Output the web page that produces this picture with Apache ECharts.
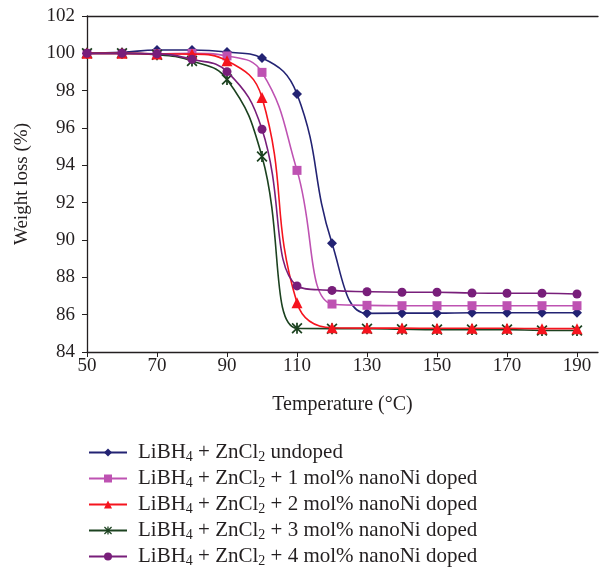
<!DOCTYPE html>
<html><head><meta charset="utf-8">
<script src="https://cdn.jsdelivr.net/npm/echarts@6/dist/echarts.min.js"></script>
<style>html,body{margin:0;padding:0;background:#fff}#c{width:606px;height:568px}</style>
</head><body><div id="c"></div>
<script>
var temperatures = [50,60,70,80,90,100,110,120,130,140,150,160,170,180,190];
var undoped = [100,100.05,100.18,100.18,100.07,99.75,97.82,89.82,86.07,86.08,86.08,86.1,86.1,86.1,86.1];
var doped1 = [100,100,99.98,100.0,99.86,98.98,93.73,86.57,86.5,86.48,86.48,86.48,86.48,86.48,86.48];
var doped2 = [100,100,99.97,99.96,99.6,97.63,86.64,85.3,85.28,85.28,85.27,85.27,85.27,85.25,85.25];
var doped3 = [100,100,99.92,99.59,98.6,94.47,85.27,85.25,85.25,85.22,85.2,85.2,85.2,85.15,85.15];
var doped4 = [100,100,99.97,99.68,99.02,95.93,87.54,87.3,87.23,87.2,87.2,87.16,87.15,87.15,87.11];
var seriesNames = ['undoped','1 mol% nanoNi doped','2 mol% nanoNi doped','3 mol% nanoNi doped','4 mol% nanoNi doped'];
var yTicks = [84,86,88,90,92,94,96,98,100,102];
var xTicks = [50,70,90,110,130,150,170,190];

var FONT = 'Liberation Serif';
var colors = ['#232373','#BE52B2','#F5141E','#1C4220','#781E7A'];
var starPath = 'path://M4.2 0L5.8 0L5.8 10L4.2 10ZM0 1.1L1.1 0L10 8.9L8.9 10ZM8.9 0L10 1.1L1.1 10L0 8.9Z';
var symbols = ['diamond','rect','triangle',starPath,'circle'];
var sizes = [10,9,11,11,9];
var datas = [undoped,doped1,doped2,doped3,doped4];
function pairs(arr){ return temperatures.map(function(t,i){ return [t,arr[i]]; }); }

var series = datas.map(function(d,i){
  return {
    name: seriesNames[i], type:'line', data: pairs(d), smooth:0.45,
    symbol: symbols[i], symbolSize: sizes[i], showSymbol:true,
    lineStyle:{color:colors[i], width:1.6},
    itemStyle:{color:colors[i]},
    z: [2,3,5,4,6][i]
  };
});

var chart = echarts.init(document.getElementById('c'), null, {renderer:'canvas'});
chart.setOption({
  animation:false,
  backgroundColor:'#fff',
  grid:{left:87, top:16, right:8, bottom:216, containLabel:false},
  xAxis:[{
    type:'value', min:50, max:196, interval:20,
    axisLine:{show:true, lineStyle:{color:'#231f20', width:1.3}},
    axisTick:{show:true, length:5, lineStyle:{color:'#231f20'}},
    splitLine:{show:false},
    axisLabel:{color:'#231f20', fontFamily:FONT, fontSize:19, margin:5, showMaxLabel:false,
      formatter:function(v){ return xTicks.indexOf(v)>=0 ? String(v) : ''; }},
    name:'Temperature (\u00B0C)', nameLocation:'middle', nameGap:43,
    nameTextStyle:{color:'#231f20', fontFamily:FONT, fontSize:20}
  },{
    type:'value', min:50, max:196, position:'top',
    axisLine:{show:true, lineStyle:{color:'#231f20', width:1.3}},
    axisTick:{show:false}, axisLabel:{show:false}, splitLine:{show:false}
  }],
  yAxis:{
    type:'value', min:84, max:102, interval:2,
    axisLine:{show:true, lineStyle:{color:'#231f20', width:1.3}},
    axisTick:{show:true, length:5, lineStyle:{color:'#231f20'}},
    splitLine:{show:false},
    axisLabel:{color:'#231f20', fontFamily:FONT, fontSize:19, margin:12,
      formatter:function(v){ return yTicks.indexOf(v)>=0 ? String(v) : ''; }},
    name:'Weight loss (%)', nameLocation:'middle', nameGap:55, nameRotate:90,
    nameTextStyle:{color:'#231f20', fontFamily:FONT, fontSize:19}
  },
  legend:{
    orient:'vertical', left:88, top:441, height:140, padding:0, itemGap:3, itemWidth:38, itemHeight:10,
    data: seriesNames,
    formatter:function(name){
      return '{a|LiBH}{s|4}{a| + ZnCl}{s|2}{a| ' + (name==='undoped' ? 'undoped' : '+ ' + name) + '}';
    },
    textStyle:{color:'#231f20', fontFamily:FONT, fontSize:21, padding:[0,0,0,6],
      rich:{
        a:{fontFamily:FONT, fontSize:21, color:'#231f20', lineHeight:23},
        s:{fontFamily:FONT, fontSize:14, color:'#231f20', lineHeight:23, padding:[9,0,0,0]}
      }}
  },
  series: series
});
</script>
</body></html>
